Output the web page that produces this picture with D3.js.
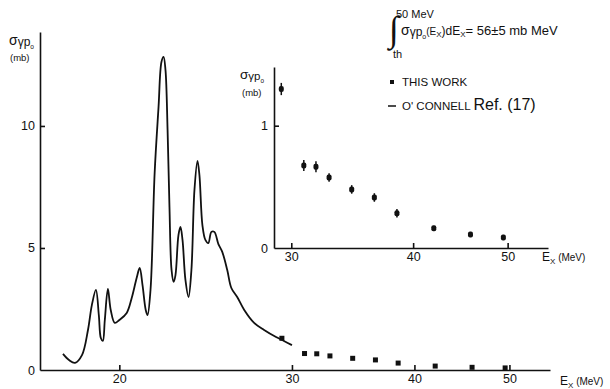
<!DOCTYPE html>
<html>
<head>
<meta charset="utf-8">
<script src="https://cdn.jsdelivr.net/npm/d3@7"></script>
<style>
  body { margin: 0; background: #fff; }
  svg { display: block; font-family: "Liberation Sans", Arial, sans-serif; }
  .axes path, .axes line { stroke: #111; stroke-width: 1.6; }
  .axes text { font-size: 12.5px; fill: #111; font-family: "Liberation Sans", Arial, sans-serif; }
</style>
</head>
<body>
<div id="chart"></div>
<script>
// O'Connell excitation function (MeV, mb)
var curveE = [17.52, 17.77, 18.02, 18.32, 18.58, 18.75, 18.93, 19.06, 19.15, 19.24, 19.33, 19.47, 19.60, 19.79, 20.0,
    20.35, 20.59, 20.83, 20.98, 21.12, 21.28, 21.37, 21.52, 21.73, 21.93, 22.08, 22.19, 22.29, 22.40, 22.50, 22.61,
    22.72, 22.82, 22.98, 23.09, 23.20, 23.36, 23.53, 23.69, 23.86, 24.03, 24.14, 24.31, 24.48, 24.65, 24.83, 25.00,
    25.24, 25.47, 25.77, 26.02, 26.38, 26.82, 27.45, 28.10, 28.90, 29.44, 30.0]
var curveSigma = [0.66, 0.41, 0.29, 0.61, 1.64, 2.66, 3.28, 2.25, 1.31, 1.19, 2.05, 3.32, 2.46, 1.93, 2.05,
    2.34, 2.95, 3.77, 4.18, 3.48, 2.46, 2.25, 3.28, 8.07, 10.78, 12.62, 12.83, 12.3, 9.84, 6.68, 4.10,
    3.61, 3.89, 5.53, 5.86, 5.33, 3.69, 2.99, 4.10, 7.38, 8.57, 7.99, 5.94, 5.33, 5.20, 5.66, 5.66,
    5.16, 4.84, 4.10, 3.36, 2.99, 2.46, 1.93, 1.64, 1.35, 1.19, 1.02]

// this work
var workE = [29.3, 30.9, 31.8, 32.8, 34.6, 36.5, 38.5, 42.0, 45.8, 49.5]
var workSigma = [1.30, 0.675, 0.664, 0.577, 0.479, 0.413, 0.284, 0.161, 0.11, 0.085]
var workErr = [0.05, 0.045, 0.045, 0.035, 0.035, 0.035, 0.035, 0, 0, 0]

var mainXTicks = [20, 30, 40, 50]
var mainYTicks = [0, 5, 10]
var insetXTicks = [30, 40, 50]
var insetYTicks = [0, 1]

var width = 610,
    height = 389

var svg = d3.select('#chart').append('svg')
    .attr('width', width)
    .attr('height', height)

var x = d3.scaleLog().domain([16.6, 55]).range([40, 550])
var y = d3.scaleLinear().domain([0, 13.85]).range([370, 32])

var xi = d3.scaleLog().domain([28.8, 55]).range([274, 548])
var yi = d3.scaleLinear().domain([0, 1.48]).range([248, 67])

// main axes
svg.append('g').attr('class', 'axes')
    .attr('transform', 'translate(0,370)')
    .call(d3.axisBottom(x).tickValues(mainXTicks).tickFormat(d3.format('d'))
        .tickSizeInner(-5).tickSizeOuter(0).tickPadding(4))
svg.append('g').attr('class', 'axes')
    .attr('transform', 'translate(40,0)')
    .call(d3.axisLeft(y).tickValues(mainYTicks).tickFormat(d3.format('d'))
        .tickSizeInner(-5).tickSizeOuter(0).tickPadding(5))

// inset axes
svg.append('g').attr('class', 'axes')
    .attr('transform', 'translate(0,248)')
    .call(d3.axisBottom(xi).tickValues(insetXTicks).tickFormat(d3.format('d'))
        .tickSizeInner(-5).tickSizeOuter(0).tickPadding(4))
svg.append('g').attr('class', 'axes')
    .attr('transform', 'translate(274,0)')
    .call(d3.axisLeft(yi).tickValues(insetYTicks).tickFormat(d3.format('d'))
        .tickSizeInner(-5).tickSizeOuter(0).tickPadding(6))

d3.selectAll('.axes .tick').filter(d => d === 0).select('line').remove()

// curve
var line = d3.line()
    .x((d, i) => x(curveE[i]))
    .y((d, i) => y(curveSigma[i]))
    .curve(d3.curveCatmullRom.alpha(0.5))
svg.append('path')
    .datum(curveE)
    .attr('d', line)
    .style('fill', 'none')
    .style('stroke', '#111')
    .style('stroke-width', 1.8)

// points on main panel
svg.append('g').selectAll('rect')
    .data(workE)
    .enter().append('rect')
    .attr('x', d => x(d) - 2.5)
    .attr('y', (d, i) => y(workSigma[i]) - 2.5)
    .attr('width', 5)
    .attr('height', 5)
    .style('fill', '#111')

// points on inset, with error bars
var pts = svg.append('g').selectAll('g')
    .data(workE)
    .enter().append('g')
    .attr('transform', (d, i) => `translate(${xi(d)}, ${yi(workSigma[i])})`)
pts.append('line')
    .attr('y1', (d, i) => yi(workSigma[i] + workErr[i]) - yi(workSigma[i]))
    .attr('y2', (d, i) => yi(workSigma[i] - workErr[i]) - yi(workSigma[i]))
    .style('stroke', '#111')
    .style('stroke-width', 1.5)
pts.append('rect')
    .attr('x', -2.5).attr('y', -3)
    .attr('width', 5).attr('height', 6)
    .attr('rx', 2)
    .style('fill', '#111')

// axis titles
function sigmaLabel(px, py, fs) {
    var t = svg.append('text').attr('x', px).attr('y', py).style('fill', '#111')
    t.append('tspan').text('σ').style('font-size', (fs + 2) + 'px')
    t.append('tspan').text('γp').style('font-size', fs + 'px').attr('dy', 1)
    t.append('tspan').text('o').style('font-size', (fs * 0.55) + 'px').attr('dy', 3)
    return t
}
sigmaLabel(9, 45, 12)
svg.append('text').attr('x', 10).attr('y', 61).text('(mb)')
    .style('font-size', '9.5px').style('fill', '#111')

sigmaLabel(240, 79, 11.5)
svg.append('text').attr('x', 242).attr('y', 96).text('(mb)')
    .style('font-size', '9.5px').style('fill', '#111')

function exLabel(px, py) {
    var t = svg.append('text').attr('x', px).attr('y', py).style('fill', '#111').style('font-size', '12px')
    t.append('tspan').text('E')
    t.append('tspan').text('X').style('font-size', '8px').attr('dy', 3)
    t.append('tspan').text(' (MeV)').style('font-size', '10px').attr('dy', -3)
}
exLabel(560, 385)
exLabel(542, 261)

// legend
svg.append('rect').attr('x', 390).attr('y', 80).attr('width', 4).attr('height', 4).style('fill', '#111')
svg.append('text').attr('x', 402).attr('y', 86).text('THIS WORK')
    .style('font-size', '11.5px').style('fill', '#111')
svg.append('line').attr('x1', 388).attr('x2', 396).attr('y1', 106).attr('y2', 106)
    .style('stroke', '#111').style('stroke-width', 1.5)
var leg2 = svg.append('text').attr('x', 402).attr('y', 110).style('fill', '#111')
leg2.append('tspan').text("O' CONNELL ").style('font-size', '11.5px')
leg2.append('tspan').text('Ref. (17)').style('font-size', '16px')

// integral annotation
svg.append('text').attr('x', 389).attr('y', 41).text('∫')
    .style('font-size', '36px').style('fill', '#111').style('font-family', '"Liberation Serif", serif')
svg.append('text').attr('x', 396).attr('y', 18).text('50 MeV')
    .style('font-size', '11px').style('fill', '#111')
svg.append('text').attr('x', 393).attr('y', 58).text('th')
    .style('font-size', '11px').style('fill', '#111')
var integ = svg.append('text').attr('x', 401).attr('y', 35).style('fill', '#111').style('font-size', '13px')
integ.append('tspan').text('σ').style('font-size', '14px')
integ.append('tspan').text('γp').style('font-size', '12px').attr('dy', 1)
integ.append('tspan').text('o').style('font-size', '7px').attr('dy', 3)
integ.append('tspan').text('(E').style('font-size', '10px').attr('dy', -4)
integ.append('tspan').text('X').style('font-size', '8px').attr('dy', 2)
integ.append('tspan').text(')dE').style('font-size', '12px').attr('dy', -2)
integ.append('tspan').text('X').style('font-size', '8px').attr('dy', 2)
integ.append('tspan').text('= 56±5  mb  MeV').style('font-size', '13px').attr('dy', -2)
</script>
</body>
</html>
